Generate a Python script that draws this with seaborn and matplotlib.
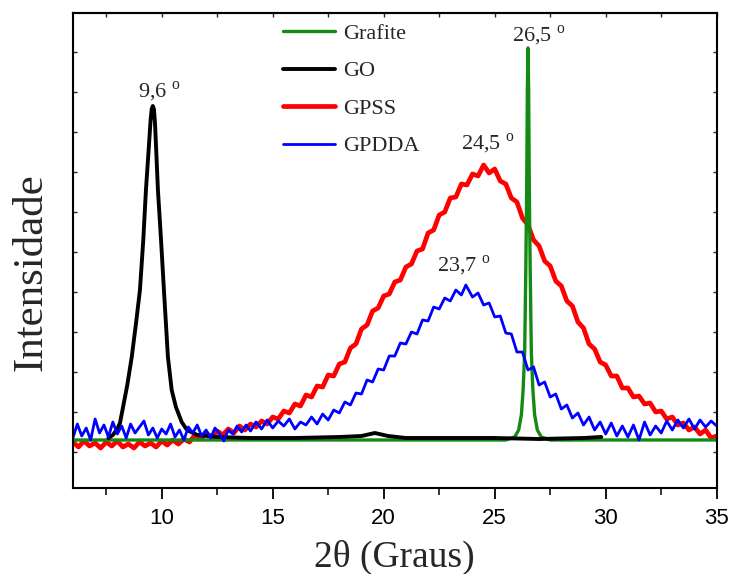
import numpy as np
import pandas as pd
import matplotlib
matplotlib.use("Agg")
import matplotlib.pyplot as plt
import seaborn as sns

# ---- diffraction patterns (2theta in degrees, intensity in arbitrary units) ----
grafite_2t = [6.0, 25.5, 25.9, 26.08, 26.2, 26.28, 26.35, 26.4, 26.44, 26.47, 26.5,
              26.53, 26.56, 26.6, 26.65, 26.72, 26.8, 26.92, 27.1, 27.5, 35.0]
grafite_int = [52, 52, 55, 62, 77, 102, 140, 220, 300, 400, 444,
               400, 300, 220, 140, 102, 77, 62, 55, 52, 52]

go_2t = [7.6, 7.8, 8.0, 8.12, 8.26, 8.45, 8.65, 8.85, 9.02, 9.17, 9.29, 9.42, 9.5, 9.55,
         9.6, 9.65, 9.7, 9.76, 9.83, 9.97, 10.1, 10.28, 10.45, 10.64, 10.9, 11.14, 11.6,
         12.5, 14.0, 16.0, 18.0, 19.0, 19.6, 20.2, 21.0, 23.0, 25.0, 27.0, 29.0, 29.8]
go_int = [54, 57, 63, 69, 85, 107, 135, 170, 202, 252, 302, 345, 372, 383,
          386, 383, 368, 338, 302, 252, 202, 135, 102, 85, 70, 62, 57,
          55, 54, 54, 55, 56, 59, 56, 54, 54, 54, 53, 54, 55]

gpss_2t = [6.0, 6.25, 6.5, 6.75, 7.0, 7.25, 7.5, 7.75, 8.0, 8.25, 8.5, 8.75, 9.0, 9.25,
           9.5, 9.75, 10.0, 10.25, 10.5, 10.75, 11.0, 11.25, 11.5, 11.75, 12.0, 12.25,
           12.5, 12.75, 13.0, 13.25, 13.5, 13.75, 14.0, 14.25, 14.5, 14.75, 15.0, 15.25,
           15.5, 15.75, 16.0, 16.25, 16.5, 16.75, 17.0, 17.25, 17.5, 17.75, 18.0, 18.25,
           18.5, 18.75, 19.0, 19.25, 19.5, 19.75, 20.0, 20.25, 20.5, 20.75, 21.0, 21.25,
           21.5, 21.75, 22.0, 22.25, 22.5, 22.75, 23.0, 23.25, 23.5, 23.75, 24.0, 24.25,
           24.5, 24.75, 25.0, 25.25, 25.5, 25.75, 26.0, 26.25, 26.5, 26.75, 27.0, 27.25,
           27.5, 27.75, 28.0, 28.25, 28.5, 28.75, 29.0, 29.25, 29.5, 29.75, 30.0, 30.25,
           30.5, 30.75, 31.0, 31.25, 31.5, 31.75, 32.0, 32.25, 32.5, 32.75, 33.0, 33.25,
           33.5, 33.75, 34.0, 34.25, 34.5, 34.75, 35.0]
gpss_int = [50, 45, 51, 46, 49, 44, 50, 46, 51, 45, 48, 44, 50, 46,
            49, 45, 51, 47, 52, 48, 53, 50, 57, 53, 59, 55,
            61, 57, 63, 59, 66, 62, 68, 65, 71, 68, 75, 73,
            81, 79, 88, 86, 97, 95, 106, 105, 117, 116, 128, 130,
            144, 148, 163, 167, 181, 184, 196, 198, 210, 212, 225, 228,
            241, 243, 259, 262, 277, 280, 294, 295, 308, 307, 318, 316,
            327, 319, 323, 311, 308, 294, 290, 274, 267, 252, 246, 231,
            226, 211, 206, 191, 186, 170, 164, 148, 143, 130, 127, 116,
            116, 104, 104, 95, 96, 88, 89, 80, 81, 73, 75, 67,
            69, 62, 65, 58, 62, 54, 56]

gpdda_2t = [6.0, 6.2, 6.4, 6.6, 6.8, 7.0, 7.2, 7.4, 7.6, 7.8, 8.0, 8.2, 8.4, 8.6, 8.8,
            9.0, 9.2, 9.4, 9.6, 9.8, 10.0, 10.2, 10.4, 10.6, 10.8, 11.0, 11.2, 11.4,
            11.6, 11.8, 12.0, 12.2, 12.4, 12.6, 12.8, 13.0, 13.2, 13.4, 13.6, 13.8,
            14.0, 14.25, 14.5, 14.75, 15.0, 15.25, 15.5, 15.75, 16.0, 16.25, 16.5, 16.75,
            17.0, 17.25, 17.5, 17.75, 18.0, 18.25, 18.5, 18.75, 19.0, 19.25, 19.5, 19.75,
            20.0, 20.25, 20.5, 20.75, 21.0, 21.25, 21.5, 21.75, 22.0, 22.25, 22.5, 22.75,
            23.0, 23.25, 23.5, 23.7, 24.0, 24.25, 24.5, 24.75, 25.0, 25.25, 25.5, 25.75,
            26.0, 26.25, 26.5, 26.75, 27.0, 27.25, 27.5, 27.75, 28.0, 28.25, 28.5, 28.75,
            29.0, 29.25, 29.5, 29.75, 30.0, 30.25, 30.5, 30.75, 31.0, 31.25, 31.5, 31.75,
            32.0, 32.25, 32.5, 32.75, 33.0, 33.25, 33.5, 33.75, 34.0, 34.25, 34.5, 34.75,
            35.0]
gpdda_int = [54, 68, 56, 64, 52, 73, 59, 67, 55, 70, 58, 66, 54, 68, 59,
             65, 71, 57, 64, 54, 63, 58, 68, 55, 62, 52, 65, 59,
             67, 56, 62, 54, 64, 58, 51, 62, 58, 66, 60, 67,
             61, 70, 63, 72, 64, 71, 66, 73, 63, 70, 67, 75,
             68, 78, 72, 82, 79, 90, 87, 99, 98, 112, 110, 123,
             122, 136, 136, 149, 148, 160, 158, 172, 171, 185, 183, 194,
             191, 202, 197, 207, 195, 199, 187, 189, 175, 176, 159, 158,
             140, 140, 122, 125, 107, 110, 95, 98, 83, 87, 74, 79,
             67, 75, 62, 70, 58, 69, 56, 66, 55, 67, 52, 70,
             57, 66, 59, 71, 62, 72, 64, 73, 63, 72, 65, 71,
             66]

# peak positions marked on the chart
peak_labels = ["9,6", "26,5", "24,5", "23,7"]

frames = {
    "Grafite": pd.DataFrame({"x": grafite_2t, "y": grafite_int}),
    "GO": pd.DataFrame({"x": go_2t, "y": go_int}),
    "GPSS": pd.DataFrame({"x": gpss_2t, "y": gpss_int}),
    "GPDDA": pd.DataFrame({"x": gpdda_2t, "y": gpdda_int}),
}
colors = {"Grafite": "#138a13", "GO": "black", "GPSS": "#ff0000", "GPDDA": "#0000ff"}
widths = {"Grafite": 2.4, "GO": 2.8, "GPSS": 3.4, "GPDDA": 2.0}

sns.set_theme(style="white")
plt.rcParams["font.family"] = ["Liberation Serif", "DejaVu Serif"]
plt.rcParams["mathtext.fontset"] = "custom"
plt.rcParams["mathtext.rm"] = "Liberation Serif"

fig = plt.figure(figsize=(7.32, 5.74), dpi=100)
W, H = 732, 574
ax = fig.add_axes([72.9 / W, (H - 488.3) / H, (716.7 - 72.9) / W, (488.3 - 13.3) / H])

lines = {}
for name in ["GPSS", "Grafite", "GO", "GPDDA"]:
    sns.lineplot(data=frames[name], x="x", y="y", ax=ax, color=colors[name],
                 linewidth=widths[name], estimator=None, sort=False, label=name,
                 legend=False)
    lines[name] = ax.get_lines()[-1]

ax.set_xlim(6, 35)
ax.set_ylim(3.7, 478.7)

# ticks: bottom outward with labels, top/left/right inward without labels
ax.set_xticks([10, 15, 20, 25, 30, 35])
ax.set_xticks(np.arange(7.5, 35, 5), minor=True)
ax.tick_params(axis="x", which="major", direction="out", length=8, width=1.3,
               bottom=True, top=False, pad=6, labelsize=16, colors="black")
ax.tick_params(axis="x", which="minor", direction="out", length=5, width=1.3,
               bottom=True, top=False)
for lab in ax.get_xticklabels():
    lab.set_fontfamily(["Liberation Sans", "DejaVu Sans"])

top = ax.secondary_xaxis("top")
top.set_xticks([10, 15, 20, 25, 30, 35])
top.set_xticks(np.arange(7.5, 35, 5), minor=True)
top.tick_params(which="both", direction="in", length=3, width=1.0, labeltop=False)
top.spines["top"].set_linewidth(1.5)

ax.set_yticks(np.arange(40, 479, 40))
ax.tick_params(axis="y", which="major", direction="in", length=3, width=1.0,
               left=True, right=True, labelleft=False)

for sp in ax.spines.values():
    sp.set_linewidth(1.5)
    sp.set_color("black")

ax.set_xlabel("2θ (Graus)", fontsize=27, labelpad=8)
ax.set_ylabel("Intensidade", fontsize=31)
ax.yaxis.set_label_coords(-0.035, 0.455)

# peak annotations: text offset from each peak maximum
peaks = [
    (go_2t, go_int, peak_labels[0], (-10.6, 5.8)),
    (grafite_2t, grafite_int, peak_labels[1], (-11.3, 4.3)),
    (gpss_2t, gpss_int, peak_labels[2], (-16.5, 10.8)),
    (gpdda_2t, gpdda_int, peak_labels[3], (-20.9, 9.4)),
]
for xs, ys, txt, off in peaks:
    i = int(np.argmax(ys))
    ax.annotate(txt + r" $^{\rm o}$", xy=(xs[i], ys[i]), xytext=off,
                textcoords="offset points", ha="left", va="baseline", fontsize=16)

order = ["Grafite", "GO", "GPSS", "GPDDA"]
ax.legend([lines[n] for n in order], order, loc="upper left",
          bbox_to_anchor=(0.3264, 0.9786), frameon=False, fontsize=16,
          handlelength=2.36, handletextpad=0.35, labelspacing=0.76,
          borderpad=0, borderaxespad=0)

fig.savefig("out.png", dpi=100)
